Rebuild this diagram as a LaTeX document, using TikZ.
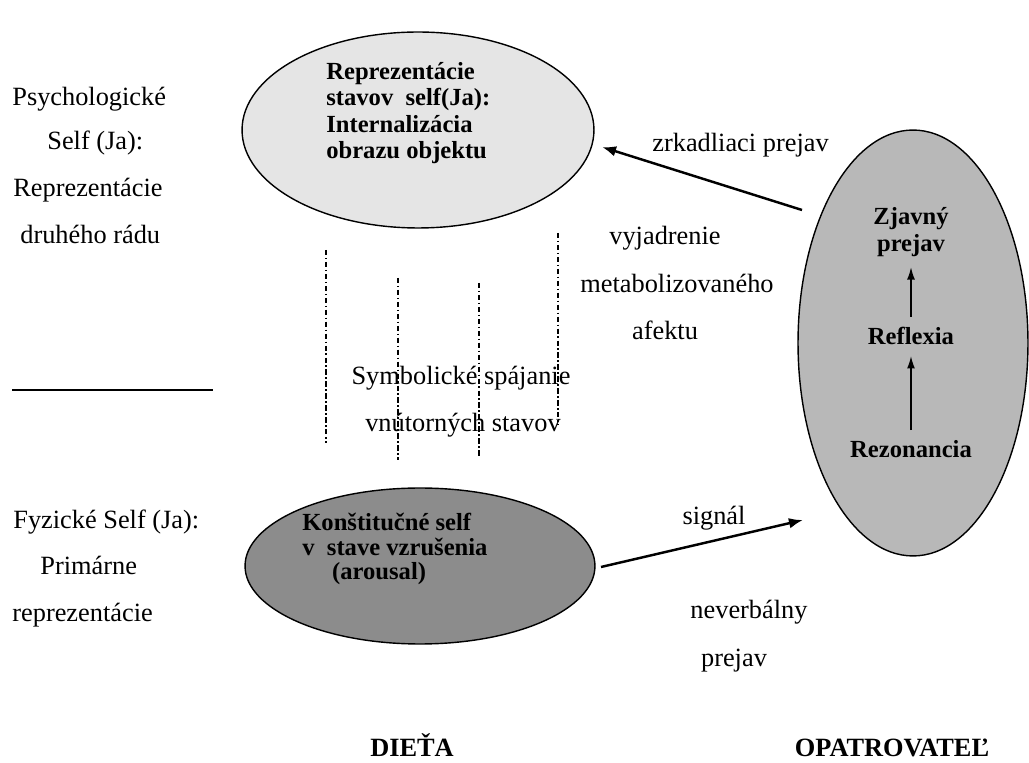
\documentclass[tikz,border=0pt]{standalone}
\usepackage{fontspec}
\setmainfont{Liberation Serif}[BoldFont={Liberation Serif Bold}]
\usetikzlibrary{shapes.geometric,arrows.meta}
\definecolor{lightbubble}{gray}{0.9}
\definecolor{midbubble}{gray}{0.72}
\definecolor{darkbubble}{gray}{0.55}
\begin{document}
\begin{tikzpicture}[x=0.02cm, y=-0.02cm,
  txt/.style={inner sep=0pt, font=\fontsize{15}{18}\selectfont},
  btxt/.style={inner sep=0pt, font=\fontsize{14}{15}\selectfont\bfseries},
  captxt/.style={inner sep=0pt, anchor=base, font=\fontsize{15}{18}\selectfont\bfseries},
  bubble/.style={ellipse, draw=black, line width=0.8pt, inner sep=0pt},
  arr/.style={-{Latex[length=8pt, width=6pt]}, line width=1.4pt},
  uparr/.style={-{Latex[length=7pt, width=4.5pt]}, line width=0.8pt},
  link/.style={line width=0.7pt, dash pattern=on 3pt off 1.5pt on 0.8pt off 1.5pt}]
\useasboundingbox (0,0) rectangle (1029,763);
\node[bubble, fill=lightbubble, minimum width=7.04cm, minimum height=3.92cm] (psych) at (418,130) {};
\node[bubble, fill=darkbubble, minimum width=7cm, minimum height=3.12cm] (fyz) at (420,566) {};
\node[bubble, fill=midbubble, minimum width=4.6cm, minimum height=8.52cm] (opat) at (913,343) {};
\node[btxt, align=left, anchor=west] (psychtxt) at (326,113) {Reprezentácie\\stavov\ \ self(Ja):\\Internalizácia\\obrazu objektu};
\node[btxt, align=left, anchor=west, font=\fontsize{14}{14}\selectfont\bfseries] (fyztxt) at (302,549) {Konštitučné self\\v\ \ stave vzrušenia\\\hspace*{17pt}(arousal)};
\node[btxt, align=center, inner sep=6pt] (zjav) at (911,232) {Zjavný\\prejav};
\node[btxt, inner sep=6pt, anchor=base] (refl) at (911,345) {Reflexia};
\node[btxt, inner sep=6pt, anchor=base] (rezo) at (911,458) {Rezonancia};
\draw[uparr] (refl) -- (zjav);
\draw[uparr] (rezo) -- (refl);
\node[txt, anchor=base west] (psy1) at (12,106) {Psychologické};
\node[txt, anchor=base west] (psy2) at (47,150) {Self (Ja):};
\node[txt, anchor=base west] (psy3) at (13,197) {Reprezentácie};
\node[txt, anchor=base west] (psy4) at (20,244) {druhého rádu};
\draw[line width=0.8pt] (12,390) -- (213,390);
\node[txt, anchor=base west] (fyz1) at (13,529) {Fyzické Self (Ja):};
\node[txt, anchor=base west] (fyz2) at (40,575) {Primárne};
\node[txt, anchor=base west] (fyz3) at (12,622) {reprezentácie};
\foreach \x/\a/\b in {326/250/443, 398/278/460, 479/283/458, 558/233/425}
  \draw[link] (\x,\a) -- (\x,\b);
\node[txt, anchor=base] (symb1) at (461,385) {Symbolické spájanie};
\node[txt, anchor=base] (symb2) at (463,432) {vnútorných stavov};
\node[txt, anchor=base west] (zrk) at (652,152) {zrkadliaci prejav};
\node[txt, anchor=base] (vyj1) at (665,245) {vyjadrenie};
\node[txt, anchor=base] (vyj2) at (677,293) {metabolizovaného};
\node[txt, anchor=base] (vyj3) at (665,340) {afektu};
\node[txt, anchor=base] (sig) at (714,525) {signál};
\node[txt, anchor=base] (nev1) at (749,619) {neverbálny};
\node[txt, anchor=base] (nev2) at (734,667) {prejav};
\node[captxt] (dieta) at (412,757) {DIEŤA};
\node[captxt] (opatr) at (892,757) {OPATROVATEĽ};
\coordinate (zrkfrom) at (802,210);
\coordinate (zrkto) at (602,147);
\draw[arr] (zrkfrom) -- (zrkto);
\coordinate (sigfrom) at (601,567);
\coordinate (sigto) at (803,520);
\draw[arr] (sigfrom) -- (sigto);
\end{tikzpicture}
\end{document}
